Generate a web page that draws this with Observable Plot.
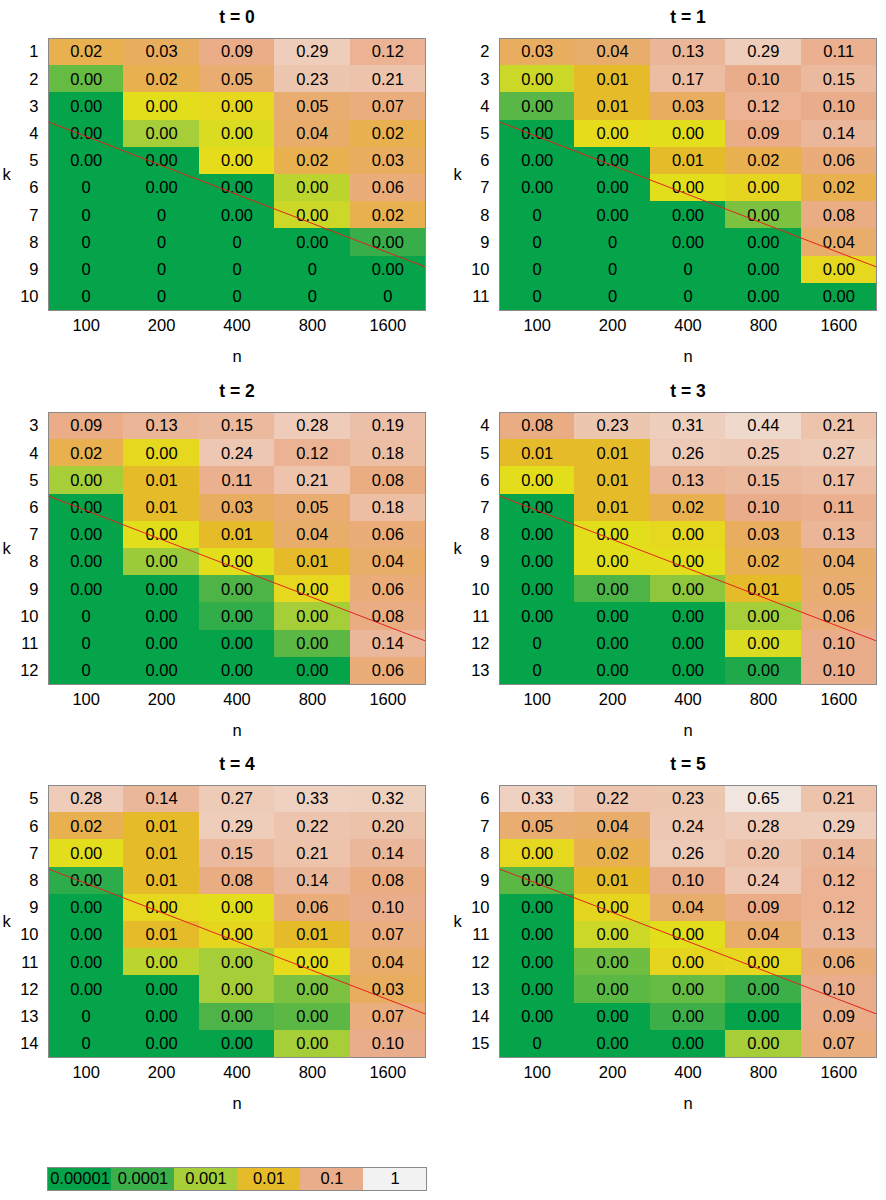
<!DOCTYPE html>
<html>
<head>
<meta charset="utf-8">
<script src="https://cdn.jsdelivr.net/npm/d3@7"></script>
<script src="https://cdn.jsdelivr.net/npm/@observablehq/plot@0.6"></script>
<style>
  html, body { margin: 0; padding: 0; background: white; }
  #wrap { position: relative; width: 886px; height: 1200px; background: white; }
  .panel { position: absolute; }
</style>
</head>
<body>
<div id="wrap"></div>
<script>
// ---- data ----
const nValues = ["100", "200", "400", "800", "1600"];
const tValues = [0, 1, 2, 3, 4, 5];
const kFirst = [1, 2, 3, 4, 5, 6];            // first k of each panel (10 rows each)
const lineStartK = [3.57, 4.57, 5.57, 6.57, 7.57, 8.57]; // red line k at left edge
const lineEndK = [8.9, 9.9, 10.9, 11.9, 12.9, 13.9];      // red line k at right edge

// rows = k (top to bottom), columns = n
const vals_t0 = [
  [0.02, 0.03, 0.09, 0.29, 0.12],
  [2.5e-4, 0.02, 0.05, 0.23, 0.21],
  [1e-5, 3e-3, 4e-3, 0.05, 0.07],
  [1e-5, 1e-3, 2.5e-3, 0.04, 0.02],
  [1e-5, 1e-5, 3.5e-3, 0.02, 0.03],
  [0, 1e-5, 1e-5, 1.5e-3, 0.06],
  [0, 0, 1e-5, 2e-3, 0.02],
  [0, 0, 0, 1e-5, 8e-5],
  [0, 0, 0, 0, 1e-5],
  [0, 0, 0, 0, 0]
];
const vals_t1 = [
  [0.03, 0.04, 0.13, 0.29, 0.11],
  [2e-3, 0.01, 0.17, 0.10, 0.15],
  [1.8e-4, 0.01, 0.03, 0.12, 0.10],
  [1e-5, 3.5e-3, 3e-3, 0.09, 0.14],
  [1e-5, 1e-5, 0.01, 0.02, 0.06],
  [1e-5, 1e-5, 3e-3, 4.4e-3, 0.02],
  [0, 1e-5, 1e-5, 4e-4, 0.08],
  [0, 0, 1e-5, 1e-5, 0.04],
  [0, 0, 0, 1e-5, 4e-3],
  [0, 0, 0, 1e-5, 1e-5]
];
const vals_t2 = [
  [0.09, 0.13, 0.15, 0.28, 0.19],
  [0.02, 4e-3, 0.24, 0.12, 0.18],
  [1e-3, 0.01, 0.11, 0.21, 0.08],
  [1e-5, 0.01, 0.03, 0.05, 0.18],
  [1e-5, 3e-3, 0.01, 0.04, 0.06],
  [1e-5, 8e-4, 3e-3, 0.01, 0.04],
  [1e-5, 1e-5, 1.5e-4, 4e-3, 0.06],
  [0, 1e-5, 6e-5, 1e-3, 0.08],
  [0, 1e-5, 1e-5, 2e-4, 0.14],
  [0, 1e-5, 1e-5, 1e-5, 0.06]
];
const vals_t3 = [
  [0.08, 0.23, 0.31, 0.44, 0.21],
  [0.01, 0.01, 0.26, 0.25, 0.27],
  [3e-3, 0.01, 0.13, 0.15, 0.17],
  [1e-5, 0.01, 0.02, 0.10, 0.11],
  [1e-5, 3e-3, 4e-3, 0.03, 0.13],
  [1e-5, 3e-3, 3e-3, 0.02, 0.04],
  [1e-5, 1.5e-4, 6e-4, 0.01, 0.05],
  [1e-5, 1e-5, 1e-5, 1e-3, 0.06],
  [0, 1e-5, 1e-5, 2.5e-3, 0.10],
  [0, 1e-5, 1e-5, 3e-5, 0.10]
];
const vals_t4 = [
  [0.28, 0.14, 0.27, 0.33, 0.32],
  [0.02, 0.01, 0.29, 0.22, 0.20],
  [3e-3, 0.01, 0.15, 0.21, 0.14],
  [5e-5, 0.01, 0.08, 0.14, 0.08],
  [1e-5, 4e-3, 3e-3, 0.06, 0.10],
  [1e-5, 0.01, 4.4e-3, 0.01, 0.07],
  [1e-5, 1.5e-3, 1e-3, 3.5e-3, 0.04],
  [1e-5, 1e-5, 1e-3, 4e-4, 0.03],
  [0, 1e-5, 1.5e-4, 2e-4, 0.07],
  [0, 1e-5, 1e-5, 1e-3, 0.10]
];
const vals_t5 = [
  [0.33, 0.22, 0.23, 0.65, 0.21],
  [0.05, 0.04, 0.24, 0.28, 0.29],
  [4e-3, 0.02, 0.26, 0.20, 0.14],
  [2e-4, 0.01, 0.10, 0.24, 0.12],
  [1e-5, 4.4e-3, 0.04, 0.09, 0.12],
  [1e-5, 2e-3, 3e-3, 0.04, 0.13],
  [1e-5, 3e-4, 4.4e-3, 4e-3, 0.06],
  [1e-5, 2e-4, 2.5e-4, 1e-4, 0.10],
  [1e-5, 1e-5, 1e-4, 1e-5, 0.09],
  [0, 1e-5, 1e-5, 1e-3, 0.07]
];
const panelValues = [vals_t0, vals_t1, vals_t2, vals_t3, vals_t4, vals_t5];
const legendLabels = ["0.00001", "0.0001", "0.001", "0.01", "0.1", "1"];

// ---- colour scale (log10 of value) ----
const colorScale = {
  type: "linear",
  domain: [-5, -4, -3, -2.5, -2, -1.6, -1, 0],
  range: ["#05a44b", "#3daf4a", "#a5ce39", "#e6df1b", "#e6bb2a", "#e9ad5a", "#eaad8b", "#f2f2f2"],
  interpolate: "rgb",
  clamp: true,
  legend: false
};
const FONT = "'Liberation Sans', Arial, Helvetica, sans-serif";
const lg = v => Math.log10(Math.max(v, 1e-5));
const fmt = v => v === 0 ? "0" : v.toFixed(2);

const wrap = document.getElementById("wrap");
const gridW = 377, gridH = 272, mLeft = 48, mTop = 38, mBottom = 60;

tValues.forEach((t, p) => {
  const k0 = kFirst[p];
  const cells = [];
  panelValues[p].forEach((row, r) => row.forEach((v, i) => cells.push({i, k: k0 + r, v})));
  const ks = d3.range(k0, k0 + panelValues[p].length);
  const line = [{x: -0.5, y: lineStartK[p]}, {x: 4.5, y: lineEndK[p]}];
  const col = p % 2, row = Math.floor(p / 2);
  const width = mLeft + gridW + 10;
  const chart = Plot.plot({
    width,
    height: mTop + gridH + mBottom,
    marginLeft: mLeft,
    marginRight: 10,
    marginTop: mTop,
    marginBottom: mBottom,
    style: {fontFamily: FONT, fontSize: "16.5px", background: "white", color: "black", overflow: "visible"},
    x: {domain: [-0.5, 4.5], axis: null},
    y: {domain: [k0 - 0.5, k0 + ks.length - 0.5], reverse: true, axis: null},
    color: colorScale,
    marks: [
      Plot.rect(cells, {x1: d => d.i - 0.5, x2: d => d.i + 0.5, y1: d => d.k - 0.5, y2: d => d.k + 0.5,
        fill: d => lg(d.v), inset: 0, shapeRendering: "crispEdges"}),
      Plot.text(cells, {x: "i", y: "k", text: d => fmt(d.v), fill: "black", fontSize: 16.5}),
      Plot.line(line, {x: "x", y: "y", stroke: "#e3231b", strokeWidth: 1}),
      Plot.frame({stroke: "#8a8a8a", strokeWidth: 1}),
      Plot.axisX({ticks: [0, 1, 2, 3, 4], tickFormat: i => nValues[i], tickSize: 0, tickPadding: 9, label: null, fontSize: 16.5}),
      Plot.axisY({ticks: ks, tickFormat: d => String(d), tickSize: 0, tickPadding: 10, label: null, fontSize: 16.5}),
      Plot.text(["n"], {frameAnchor: "bottom", dy: 46, lineAnchor: "middle", fontSize: 16.5}),
      Plot.text(["k"], {frameAnchor: "left", dx: -42, lineAnchor: "middle", textAnchor: "middle", fontSize: 16.5}),
      Plot.text([`t = ${t}`], {frameAnchor: "top", dy: -21, lineAnchor: "middle", fontSize: 17.5, fontWeight: "bold"})
    ]
  });
  const div = document.createElement("div");
  div.className = "panel";
  div.style.left = (col === 0 ? 0 : 451) + "px";
  div.style.top = (row * 373.7) + "px";
  div.appendChild(chart);
  wrap.appendChild(div);
});

// ---- legend ----
const legend = Plot.plot({
  width: 886,
  height: 40,
  marginLeft: 47,
  marginRight: 886 - 426,
  marginTop: 7,
  marginBottom: 10,
  style: {fontFamily: FONT, fontSize: "16.5px", background: "white", color: "black"},
  x: {domain: legendLabels, padding: 0, axis: null},
  color: colorScale,
  marks: [
    Plot.cell(legendLabels, {x: d => d, fill: d => lg(+d), inset: 0, shapeRendering: "crispEdges"}),
    Plot.text(legendLabels, {x: d => d, frameAnchor: "middle", fill: "black", fontSize: 16.5}),
    Plot.frame({stroke: "#8a8a8a"})
  ]
});
const ldiv = document.createElement("div");
ldiv.className = "panel";
ldiv.style.left = "0px";
ldiv.style.top = "1160px";
ldiv.appendChild(legend);
wrap.appendChild(ldiv);
</script>
</body>
</html>
